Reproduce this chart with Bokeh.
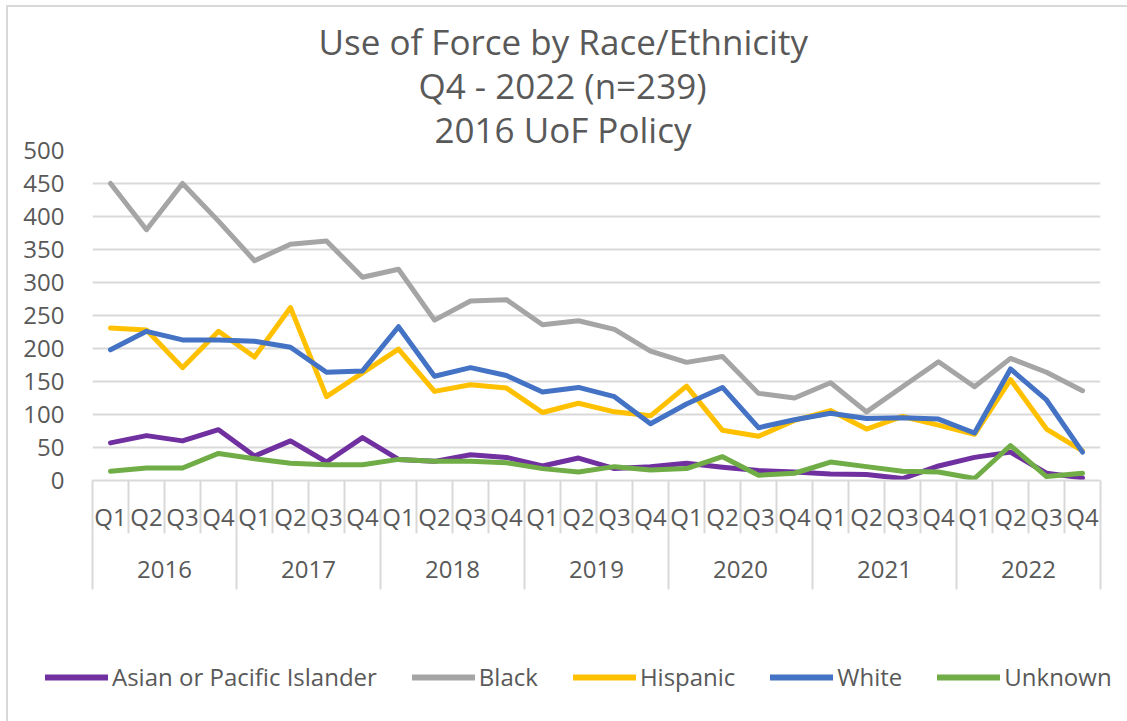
import numpy as np
from bokeh.plotting import figure
from bokeh.models import Range1d, FixedTicker, LinearAxis, Title, Legend, LegendItem
from bokeh.embed import file_html
from bokeh.resources import INLINE

years = ["2016", "2017", "2018", "2019", "2020", "2021", "2022"]
quarters = ["Q1", "Q2", "Q3", "Q4"]
categories = [(y, q) for y in years for q in quarters]

asian = [57, 68, 60, 77, 37, 60, 28, 65, 32, 29, 39, 35, 22, 34, 18, 21,
         26, 20, 15, 13, 10, 9, 3, 22, 35, 43, 11, 4]
black = [450, 380, 450, 393, 333, 358, 363, 308, 320, 243, 272, 274, 236, 242,
         229, 196, 179, 188, 132, 125, 148, 104, 142, 180, 142, 185, 164, 136]
hispanic = [231, 228, 171, 226, 187, 262, 127, 163, 199, 135, 145, 140, 103, 117,
            104, 98, 143, 76, 67, 91, 106, 78, 97, 84, 70, 153, 78, 45]
white = [198, 226, 213, 213, 211, 202, 164, 166, 233, 158, 171, 159, 134, 141,
         127, 86, 116, 141, 80, 92, 102, 94, 95, 93, 72, 169, 122, 43]
unknown = [14, 19, 19, 41, 33, 26, 24, 24, 32, 29, 29, 27, 18, 13, 21, 16,
           18, 36, 8, 11, 28, 21, 14, 13, 3, 53, 6, 11]

series_names = ["Asian or Pacific Islander", "Black", "Hispanic", "White", "Unknown"]
series_values = [asian, black, hispanic, white, unknown]
series_colors = ["#7030A0", "#A5A5A5", "#FFC000", "#4472C4", "#70AD47"]

title_lines = ["Use of Force by Race/Ethnicity", "Q4 - 2022 (n=239)", "2016 UoF Policy"]
title_offsets = [226, 326, 342]
y_ticks = list(range(0, 501, 50))

FONT = "Open Sans"
TXT = "#595959"
GRID = "#d9d9d9"
LEFT_LINE = "linear-gradient(#d9d9d9, #d9d9d9) 6px 0px / 2px 100% no-repeat"

n = len(categories)
x = np.arange(n)

p = figure(width=1127, height=600, output_backend="svg", toolbar_location=None,
           title=None, x_range=Range1d(-0.5, n - 0.5), y_range=Range1d(0, 500))
p.min_border_left = 92
p.min_border_right = 27
p.min_border_top = 150
p.min_border_bottom = 120
p.outline_line_color = None
p.background_fill_color = "white"
p.border_fill_color = None
p.styles = {"background": "linear-gradient(#d9d9d9, #d9d9d9) 6px 5px / 2px 100% no-repeat, "
                          "linear-gradient(#d9d9d9, #d9d9d9) 6px 5px / 100% 2px no-repeat, white"}

# y axis
yax = p.yaxis[0]
yax.ticker = FixedTicker(ticks=y_ticks)
yax.axis_line_color = None
yax.major_tick_line_color = None
yax.minor_tick_line_color = None
yax.major_label_text_font = FONT
yax.major_label_text_font_size = "24px"
yax.major_label_text_color = TXT
yax.major_label_standoff = 22

p.xgrid.visible = False
p.ygrid.grid_line_color = GRID
p.ygrid.grid_line_width = 2

# x axis: quarters
xax = p.xaxis[0]
xax.ticker = FixedTicker(ticks=[float(i) for i in x],
                         minor_ticks=[i - 0.5 for i in range(n + 1)])
xax.major_label_overrides = {float(i): categories[i][1] for i in range(n)}
xax.axis_line_color = GRID
xax.axis_line_width = 2
xax.major_tick_line_color = None
xax.major_tick_out = 0
xax.major_tick_in = 0
xax.minor_tick_line_color = GRID
xax.minor_tick_line_width = 2
xax.minor_tick_out = 53
xax.minor_tick_in = 0
xax.major_label_standoff = -34
xax.major_label_text_font = FONT
xax.major_label_text_font_size = "24px"
xax.major_label_text_color = TXT

# x axis: years
nq = len(quarters)
year_centers = [i * nq + (nq - 1) / 2 for i in range(len(years))]
year_bounds = [i * nq - 0.5 for i in range(len(years) + 1)]
yr = LinearAxis(ticker=FixedTicker(ticks=year_centers, minor_ticks=year_bounds))
yr.major_label_overrides = {c: years[i] for i, c in enumerate(year_centers)}
yr.axis_line_color = None
yr.major_tick_line_color = None
yr.major_tick_out = 0
yr.major_tick_in = 0
yr.minor_tick_line_color = GRID
yr.minor_tick_line_width = 2
yr.minor_tick_in = 2
yr.minor_tick_out = 54
yr.major_label_standoff = -29
yr.major_label_text_font = FONT
yr.major_label_text_font_size = "24px"
yr.major_label_text_color = TXT
p.add_layout(yr, "below")

for name, vals, col in zip(series_names, series_values, series_colors):
    p.line(x, vals, line_color=col, line_width=5, line_join="round", line_cap="round")

for txt, off in reversed(list(zip(title_lines, title_offsets))):
    p.add_layout(Title(text=txt, align="left", offset=off, standoff=-5,
                       vertical_align="bottom", text_font=FONT, text_font_size="35px",
                       text_font_style="normal", text_color=TXT), "above")

# legend strip below the chart (its series lie outside its ranges; only the key shows)
pl = figure(width=1127, height=121, output_backend="svg", toolbar_location=None,
            title=None, x_range=Range1d(-100, -99), y_range=Range1d(-100, -99),
            x_axis_location=None, y_axis_location=None)
pl.min_border_left = 0
pl.min_border_right = 0
pl.min_border_top = 0
pl.min_border_bottom = 0
pl.outline_line_color = None
pl.grid.visible = False
pl.background_fill_color = None
pl.border_fill_color = None
pl.styles = {"background": LEFT_LINE + ", white"}

items = []
for name, vals, col in zip(series_names, series_values, series_colors):
    r = pl.line(x, vals, line_color=col, line_width=6, line_cap="round")
    items.append(LegendItem(label=name, renderers=[r]))

legend = Legend(items=items, orientation="horizontal", location=(45, 28),
                glyph_width=63, glyph_height=24, label_standoff=4, spacing=35,
                padding=0, margin=0, border_line_color=None, background_fill_alpha=0,
                label_text_font=FONT, label_text_font_size="24px", label_text_color=TXT)
pl.add_layout(legend)

open("out.html", "w").write(file_html([p, pl], INLINE))
